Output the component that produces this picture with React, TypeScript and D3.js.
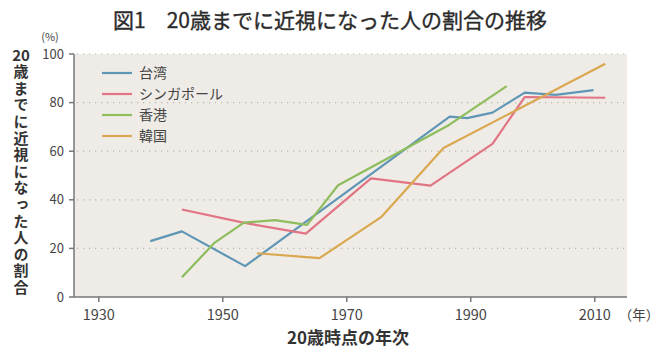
import React from 'react';
import * as d3 from 'd3';

// series: [year, %]
const taiwan: [number, number][] = [
  [1938.3, 23], [1943.4, 27], [1953.6, 12.7], [1986.6, 74.2], [1989.4, 73.6],
  [1993.5, 75.9], [1998.7, 84.1], [2003.7, 83.2], [2009.8, 85.1],
];
const singapore: [number, number][] = [
  [1943.4, 36], [1953.3, 30.6], [1963.4, 26.1], [1973.9, 48.8], [1983.5, 45.8],
  [1993.5, 63], [1998.7, 82.3], [2011.7, 82],
];
const hongkong: [number, number][] = [
  [1943.4, 8.1], [1948.7, 22.4], [1953.4, 30.6], [1958.4, 31.6], [1963.6, 29.7],
  [1968.6, 46], [1986.5, 70.8], [1995.8, 86.8],
];
const korea: [number, number][] = [
  [1955.5, 18], [1965.6, 16], [1975.6, 33], [1985.6, 61.3], [2011.7, 96],
];

const seriesNames = ['台湾', 'シンガポール', '香港', '韓国'];
const seriesColors = ['#5f96b6', '#e27585', '#8dbd5c', '#d9a850'];
const seriesData = [taiwan, singapore, hongkong, korea];

const xTicks = [1930, 1950, 1970, 1990, 2010];
const yTicks = [0, 20, 40, 60, 80, 100];

const W = 660;
const H = 359;
const font = '"Noto Sans CJK JP", "Noto Sans", sans-serif';

const App: React.FC = () => {
  const x = d3.scaleLinear().domain([1926, 2015.2]).range([74, 627]);
  const y = d3.scaleLinear().domain([0, 100]).range([297, 54]);
  const line = d3
    .line<[number, number]>()
    .x((d) => x(d[0]))
    .y((d) => y(d[1]));

  return (
    <svg width={W} height={H} style={{ position: 'absolute', left: 0, top: 0 }} fontFamily={font}>
      <rect width={W} height={H} fill="#fff" />
      <text x={330} y={28} textAnchor="middle" fontSize={21} fontWeight={400} fill="#2b2b2b" stroke="#2b2b2b" strokeWidth={0.35}>
        図1　20歳までに近視になった人の割合の推移
      </text>

      {/* plot background */}
      <rect x={x(1926)} y={y(100)} width={x(2015.2) - x(1926)} height={y(0) - y(100)} fill="#efebe6" />

      {/* grid */}
      {yTicks.filter((t) => t > 0).map((t) => (
        <line
          key={t}
          x1={x(1926) + 3}
          x2={x(2015.2)}
          y1={y(t)}
          y2={y(t)}
          stroke="#b9b6b1"
          strokeWidth={1.2}
          strokeDasharray="1.2,4.8"
        />
      ))}

      {/* series */}
      {seriesData.map((s, i) => (
        <path
          key={seriesNames[i]}
          d={line(s) || ''}
          fill="none"
          stroke={seriesColors[i]}
          strokeWidth={2.2}
          strokeLinejoin="round"
        />
      ))}

      {/* axes */}
      <line x1={x(1926)} x2={x(1926)} y1={y(100)} y2={y(0)} stroke="#777" strokeWidth={1.5} />
      <line x1={x(1926)} x2={x(2015.2)} y1={y(0)} y2={y(0)} stroke="#777" strokeWidth={1.5} />
      {yTicks.map((t) => (
        <g key={t}>
          <line x1={x(1926) - 5} x2={x(1926)} y1={y(t)} y2={y(t)} stroke="#777" strokeWidth={1.5} />
          <text x={x(1926) - 10} y={y(t) + 4.5} textAnchor="end" fontSize={13} fill="#444">
            {t}
          </text>
        </g>
      ))}
      {xTicks.map((t) => (
        <g key={t}>
          <line x1={x(t)} x2={x(t)} y1={y(0)} y2={y(0) + 5} stroke="#777" strokeWidth={1.5} />
          <text x={x(t)} y={320} textAnchor="middle" fontSize={14.5} fill="#444">
            {t}
          </text>
        </g>
      ))}
      <text x={639} y={320} textAnchor="middle" fontSize={13.5} fill="#444">
        （年）
      </text>
      <text x={50} y={41} textAnchor="middle" fontSize={11} fill="#444">
        (%)
      </text>

      {/* axis titles */}
      <text x={21} y={60.5} textAnchor="middle" fontSize={15} fontWeight={700} fill="#333">
        20
      </text>
      <text
        x={21}
        y={64}
        fontSize={15}
        fontWeight={700}
        fill="#333"
        letterSpacing={1.6}
        style={{ writingMode: 'vertical-rl', textOrientation: 'upright' }}
      >
        歳までに近視になった人の割合
      </text>
      <text x={348} y={344} textAnchor="middle" fontSize={17} fontWeight={700} fill="#333">
        20歳時点の年次
      </text>

      {/* legend */}
      {seriesNames.map((n, i) => (
        <g key={n} transform={`translate(102,${73 + i * 21})`}>
          <line x1={0} x2={30} y1={0} y2={0} stroke={seriesColors[i]} strokeWidth={2.2} />
          <text x={37} y={5} fontSize={14} fill="#444">
            {n}
          </text>
        </g>
      ))}
    </svg>
  );
};

export default App;
